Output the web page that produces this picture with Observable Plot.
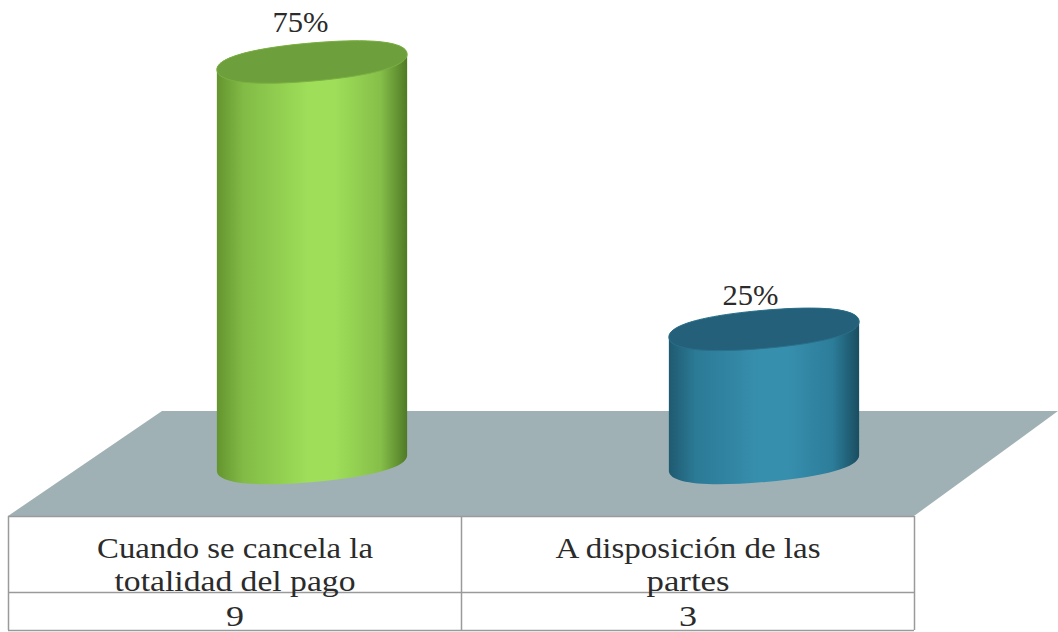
<!DOCTYPE html>
<html>
<head>
<meta charset="utf-8">
<script src="https://cdn.jsdelivr.net/npm/d3@7"></script>
<script src="https://cdn.jsdelivr.net/npm/@observablehq/plot@0.6"></script>
<style>
html,body{margin:0;padding:0;background:#fff}
svg{display:block}
</style>
</head>
<body>
<div id="chart"></div>
<script>
// ---- chart values ----
const categories = ["Cuando se cancela la totalidad del pago", "A disposición de las partes"];
const labelLine1 = ["Cuando se cancela la", "A disposición de las"];
const labelLine2 = ["totalidad del pago", "partes"];
const counts = [9, 3];
const total = d3.sum(counts);

// ---- layout (pixel geometry of the pseudo-3D stage) ----
const W = 1058, H = 632;
const baseY = 463, topY = 62;            // y pixel of value 0 and value 9
const unit = (baseY - topY) / 9;
const valueAt = px => (baseY - px) / unit;
const tableLeft = 8, tableMid = 461, tableRight = 914;
const slotWidth = tableMid - tableLeft;
const slotAt = px => (px - tableLeft) / slotWidth;
const barCenters = [312, 764];
const labelShift = [-12, -14];
const labelLift = [40, 34];
const rx = 95.5, ry = 19, tilt = -5, roundness = 0.64;
const serif = "'Liberation Serif', 'DejaVu Serif', serif";
const textColor = "#2b2b2b";

const rows = categories.map((c, i) => ({
  category: c, count: counts[i], line1: labelLine1[i], line2: labelLine2[i], slot: i + 0.5,
  share: counts[i] / total,
  x1: slotAt(barCenters[i] - rx), x2: slotAt(barCenters[i] + rx)
}));

const palette = [
  {id: "g0", top: "#6e9f3d", stops: ["#64942f", "#82bb46", "#9ede59", "#9ede59", "#86bf49", "#4f7a26"], rim: "#7bb042"},
  {id: "g1", top: "#25607a", stops: ["#1f5a70", "#2b7a96", "#378fae", "#378fae", "#2c7d9a", "#1a4d60"], rim: "#2a708b"}
];
const stopAt = [0, 0.14, 0.48, 0.62, 0.86, 1];

// pseudo-3D cylinder drawn from each bar's scaled position
function cylinder(index, scales, values, dimensions, context) {
  const g = d3.select(context.document.createElementNS("http://www.w3.org/2000/svg", "g"));
  const defs = g.append("defs");
  const rad = tilt * Math.PI / 180, cos = Math.cos(rad), sin = Math.sin(rad);
  for (const i of index) {
    const p = palette[i];
    const grad = defs.append("linearGradient").attr("id", p.id).attr("x1", 0).attr("x2", 1).attr("y1", 0).attr("y2", 0);
    p.stops.forEach((c, k) => grad.append("stop").attr("offset", stopAt[k]).attr("stop-color", c));
    const cx = (values.x1[i] + values.x2[i]) / 2;
    const a = (values.x2[i] - values.x1[i]) / 2;
    const yb = values.y1[i], yt = values.y2[i];
    // point on the tilted rounded ellipse, u and v in -1..1
    const pt = (y0, u, v) => `${cx + a * u * cos - ry * v * sin},${y0 + a * u * sin + ry * v * cos}`;
    const k = roundness;
    const lowerHalf = y0 => `C${pt(y0, -1, k)} ${pt(y0, -k, 1)} ${pt(y0, 0, 1)}C${pt(y0, k, 1)} ${pt(y0, 1, k)} ${pt(y0, 1, 0)}`;
    const upperHalf = y0 => `C${pt(y0, 1, -k)} ${pt(y0, k, -1)} ${pt(y0, 0, -1)}C${pt(y0, -k, -1)} ${pt(y0, -1, -k)} ${pt(y0, -1, 0)}`;
    g.append("path")
      .attr("d", `M${pt(yt, -1, 0)}L${pt(yb, -1, 0)}${lowerHalf(yb)}L${pt(yt, 1, 0)}${upperHalf(yt)}Z`)
      .attr("fill", `url(#${p.id})`);
    g.append("path")
      .attr("d", `M${pt(yt, -1, 0)}${lowerHalf(yt)}${upperHalf(yt)}Z`)
      .attr("fill", p.top).attr("stroke", p.rim).attr("stroke-width", 1);
  }
  return g.node();
}

// stretch text horizontally to the reference's wide letterforms
const stretched = widths => (index, scales, values, dimensions, context, next) => {
  const node = next(index, scales, values, dimensions, context);
  d3.select(node).selectAll("text").each(function (_, j) {
    this.setAttribute("textLength", widths[index[j]]);
    this.setAttribute("lengthAdjust", "spacingAndGlyphs");
  });
  return node;
};

const floor = [
  {y: valueAt(411), x1: slotAt(162), x2: slotAt(1058)},
  {y: valueAt(516), x1: slotAt(8), x2: slotAt(914)}
];
const gridColor = "#9a9a9a";

const chart = Plot.plot({
  width: W, height: H,
  marginTop: 0, marginRight: 0, marginBottom: 0, marginLeft: 0,
  x: {type: "linear", domain: [0, 2], range: [tableLeft, tableRight], axis: null},
  y: {type: "linear", domain: [0, 9], range: [baseY, topY], axis: null},
  style: {background: "#fff", overflow: "hidden"},
  marks: [
    Plot.areaX(floor, {y: "y", x1: "x1", x2: "x2", fill: "#a0b1b6"}),
    Plot.rectY(rows, {x1: "x1", x2: "x2", y1: 0, y2: "count", render: cylinder}),
    Plot.ruleY([valueAt(516), valueAt(592), valueAt(630)], {x1: 0, x2: 2, stroke: gridColor, strokeWidth: 1.5}),
    Plot.ruleX([0, 1, 2], {y1: valueAt(516), y2: valueAt(630), stroke: gridColor, strokeWidth: 1.5}),
    Plot.text(rows, {
      x: (d, i) => slotAt(barCenters[i] + labelShift[i]), y: (d, i) => d.count + labelLift[i] / unit,
      text: d => d3.format(".0%")(d.share),
      fontFamily: serif, fontSize: 30, fill: textColor,
      render: stretched([56, 56])
    }),
    Plot.text(rows, {
      x: "slot", y: () => valueAt(548), text: "line1",
      fontFamily: serif, fontSize: 29, fill: textColor,
      render: stretched([276, 265])
    }),
    Plot.text(rows, {
      x: "slot", y: () => valueAt(581), text: "line2",
      fontFamily: serif, fontSize: 29, fill: textColor,
      render: stretched([241, 83])
    }),
    Plot.text(rows, {
      x: "slot", y: () => valueAt(616), text: "count",
      fontFamily: serif, fontSize: 29, fill: textColor,
      render: stretched([18, 18])
    })
  ]
});
document.getElementById("chart").append(chart);
</script>
</body>
</html>
